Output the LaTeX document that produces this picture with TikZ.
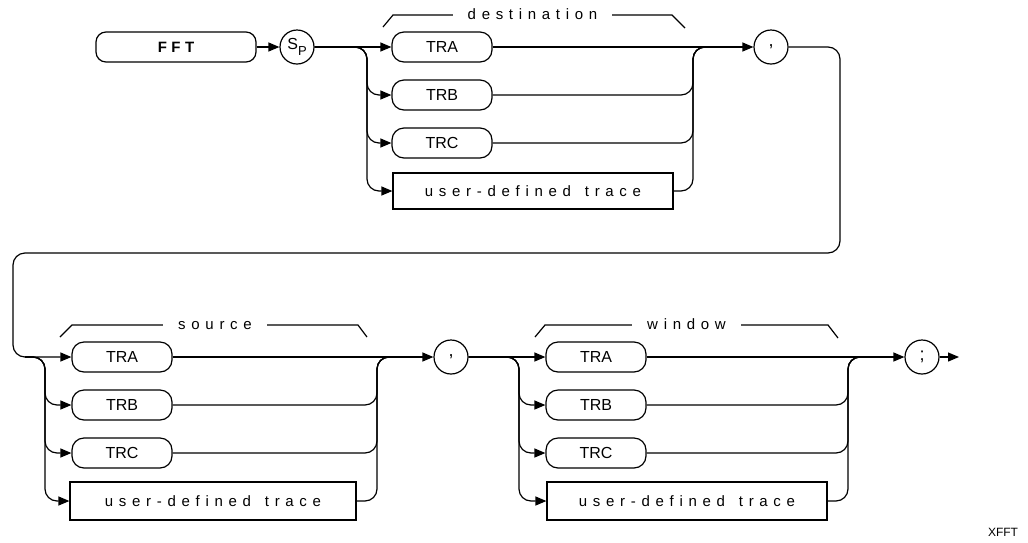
\documentclass[tikz,border=0pt]{standalone}
\usepackage{fontspec}
\setmainfont{Liberation Sans}
\newfontfamily\plotfont[LetterSpace=38]{Liberation Sans}
\newfontfamily\fftfont[LetterSpace=30]{Liberation Sans}
\usetikzlibrary{arrows.meta}

\begin{document}
\begin{tikzpicture}[x=1pt,y=-1pt,
    line width=1.2pt,
    >={Triangle[length=11pt,width=9pt]},
    keybox/.style={draw,rounded corners=12pt,minimum width=100pt,minimum height=30pt,
      inner sep=0pt,font=\fontsize{16}{16}\selectfont},
    userbox/.style={draw,minimum width=280pt,minimum height=36pt,inner sep=0pt,
      font=\fontsize{15}{15}\plotfont},
    sym/.style={draw,circle,minimum size=34pt,inner sep=0pt,font=\fontsize{18}{18}\selectfont},
    brace/.style={fill=white,inner xsep=15pt,inner ysep=2pt,text height=1ex,text depth=0pt,
      yshift=-2pt,font=\fontsize{15}{15}\plotfont},
    rail/.style={rounded corners=12pt}]

  \useasboundingbox (0,0) rectangle (1028,542);

  % TOP ROW
  \node[keybox,minimum width=160pt,rounded corners=10pt,font=\fontsize{15}{15}\fftfont\bfseries]
    (fft) at (176,47) {FFT};
  \node[sym,font=\fontsize{16}{16}\selectfont] (sp) at (297,47)
    {S\raisebox{-6pt}{\fontsize{13}{13}\selectfont P}};

  \node[keybox] (dTRA) at (442,47) {TRA};
  \node[keybox] (dTRB) at (442,95) {TRB};
  \node[keybox] (dTRC) at (442,143) {TRC};
  \node[userbox] (dUser) at (533,191) {user-defined \hspace{4pt}trace};

  \node[sym] (c1) at (771,47) {,};

  \coordinate (dL) at (367,47);   % split before destination
  \coordinate (dR) at (693,47);   % join after destination
  \coordinate (wrapR) at (840,253);
  \coordinate (wrapL) at (13,357);

  % BOTTOM ROW
  \node[keybox] (sTRA) at (122,357) {TRA};
  \node[keybox] (sTRB) at (122,405) {TRB};
  \node[keybox] (sTRC) at (122,453) {TRC};
  \node[userbox,minimum width=286pt,minimum height=38pt] (sUser) at (213,501)
    {user-defined \hspace{4pt}trace};

  \node[sym] (c2) at (451,357) {,};

  \node[keybox] (wTRA) at (596,357) {TRA};
  \node[keybox] (wTRB) at (596,405) {TRB};
  \node[keybox] (wTRC) at (596,453) {TRC};
  \node[userbox,minimum height=38pt] (wUser) at (687,501) {user-defined \hspace{4pt}trace};

  \node[sym] (c3) at (922,357) {;};

  \coordinate (sIn) at (25,357);
  \coordinate (sL) at (45,357);
  \coordinate (sR) at (377,357);
  \coordinate (wL) at (519,357);
  \coordinate (wR) at (848,357);
  \coordinate (stop) at (959,357);

  % ARROWS
  \draw[->] (fft) -- (sp);
  \draw[->] (sp) -- (dTRA);
  \foreach \n in {dTRB,dTRC,dUser} {
    \draw[rail,->] (sp.east) -| (dL |- \n.west) -- (\n.west);
    \draw[rail] (\n.east) -| (dR) -- ++(12,0);
  }
  \draw[->] (dTRA) -- (c1);

  \draw[rail,->] (c1.east) -| (wrapR) -| (wrapL) -- (sTRA.west);
  \foreach \n in {sTRB,sTRC,sUser} {
    \draw[rail,->] (sIn) -| (sL |- \n.west) -- (\n.west);
    \draw[rail] (\n.east) -| (sR) -- ++(12,0);
  }
  \draw[->] (sTRA) -- (c2);

  \draw[->] (c2) -- (wTRA);
  \foreach \n in {wTRB,wTRC,wUser} {
    \draw[rail,->] (c2.east) -| (wL |- \n.west) -- (\n.west);
    \draw[rail] (\n.east) -| (wR) -- ++(12,0);
  }
  \draw[->] (wTRA) -- (c3);
  \draw[->] (c3) -- (stop);

  % NOTES
  \draw (383,27) -- (393,15) -- node[brace] (dstLbl) {destination} (672,15) -- (685,28);
  \draw (60,337) -- (72,325) -- node[brace] (srcLbl) {source} (358,325) -- (367,337);
  \draw (535,337) -- (545,325) -- node[brace] (winLbl) {window} (828,325) -- (838,338);

  \node[font=\fontsize{12}{12}\selectfont] (tag) at (1003,532) {XFFT};

\end{tikzpicture}
\end{document}
